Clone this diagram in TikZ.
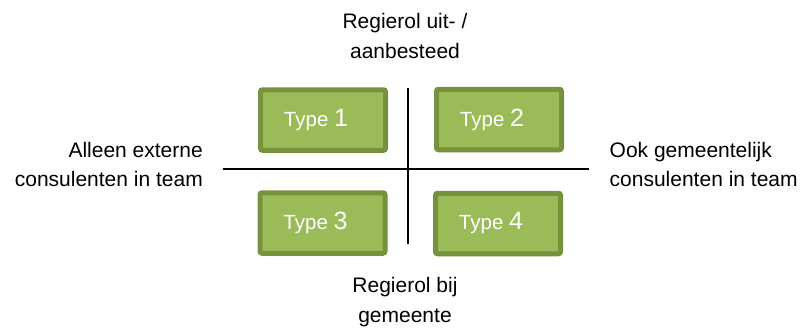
\documentclass[tikz,border=0pt]{standalone}
\usepackage{fontspec}
\setmainfont{Liberation Sans}
\definecolor{boxfill}{HTML}{9BBB59}
\definecolor{boxedge}{HTML}{76923C}
\newcommand{\typelabel}[1]{{\fontsize{20.5}{24}\selectfont Type }{\fontsize{25}{30}\selectfont #1}\kern14pt}
\tikzset{
  typebox/.style={draw=boxedge, fill=boxfill, line width=5pt, rounded corners=2pt,
    minimum width=125pt, minimum height=60.5pt, inner sep=0pt, text=white},
  axis/.style={line width=1.6pt, black},
  caption/.style={inner sep=0pt, font=\fontsize{21}{29.5}\selectfont, anchor=base}
}
\begin{document}
\begin{tikzpicture}[x=1pt, y=-1pt]
  \useasboundingbox (0,0) rectangle (801,327);
  % quadrant axes
  \coordinate (top) at (408,88);
  \coordinate (bottom) at (408,244);
  \coordinate (left) at (222.7,169);
  \coordinate (right) at (589,169);
  \draw[axis] (left) -- (right);
  \draw[axis] (top) -- (bottom);
  % the four types
  \node[typebox] (t1) at (323,120) {\typelabel{1}};
  \node[typebox] (t2) at (499,119.5) {\typelabel{2}};
  \node[typebox] (t3) at (322.5,223) {\typelabel{3}};
  \node[typebox] (t4) at (498,223.5) {\typelabel{4}};
  % axis captions (anchored on the baseline of their last line)
  \node[caption, align=center] (ctop) at (405,58) {Regierol uit- /\\aanbesteed};
  \node[caption, align=center] (cbottom) at (405,322) {Regierol bij\\gemeente};
  \node[caption, align=right, anchor=base east] (cleft) at (203,186.7) {Alleen externe\\consulenten in team};
  \node[caption, align=left, anchor=base west] (cright) at (609.5,186.7) {Ook gemeentelijk\\consulenten in team};
\end{tikzpicture}
\end{document}
